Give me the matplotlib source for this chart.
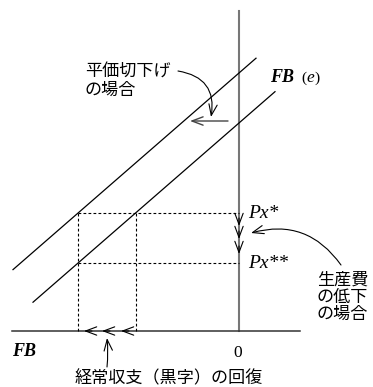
import matplotlib
matplotlib.use("Agg")
import matplotlib.pyplot as plt
import numpy as np

# ---- diagram data (origin = intersection of axes) ----
slope = 0.87                 # slope of the FB(e) lines
fb_intercepts = [25.8, 20.8] # before / after devaluation (upper, lower)
fb_x_start = [-22.6, -20.6]
fb_x_end = [1.7, 3.6]
px_levels = [11.8, 6.8]      # Px*, Px**
px_labels = ["Px*", "Px**"]
v_axis_top = 32.0
h_axis_range = [-22.7, 6.1]
v_arrow_tips = [10.5, 9.2, 7.7]      # downward heads on vertical axis
h_arrow_tips = [-15.5, -13.7, -11.8] # leftward heads on horizontal axis
shift_arrow = [(-1.1, 21.0), (-4.9, 21.0)]

label_deval = ["平価切下げ", "の場合"]
label_cost = ["生産費", "の低下", "の場合"]
label_bottom = "経常収支（黒字）の回復"

fig = plt.figure(figsize=(3.73, 3.87), dpi=100)
ax = fig.add_axes([0, 0, 1, 1])
ax.set_xlim(-23.9, 13.4)
ax.set_ylim(-5.6, 33.1)
ax.axis("off")

cjk = ["Noto Sans CJK JP", "DejaVu Sans"]
serif = "Liberation Serif"

# axes
ax.plot([0, 0], [0, v_axis_top], color="#777777", lw=1.5, zorder=2)
ax.plot(h_axis_range, [0, 0], color="#333333", lw=1.1, zorder=2)

# FB(e) lines
for b, x0, x1 in zip(fb_intercepts, fb_x_start, fb_x_end):
    xs = np.array([x0, x1])
    ax.plot(xs, slope * xs + b, color="black", lw=0.9, zorder=3)

# intersections
x_up_star = (px_levels[0] - fb_intercepts[0]) / slope
x_lo_star = (px_levels[0] - fb_intercepts[1]) / slope
x_lo_2star = (px_levels[1] - fb_intercepts[1]) / slope
x_left = min(x_up_star, x_lo_2star)

dash = (0, (2.5, 2.0))
ax.plot([x_left, 0], [px_levels[0]] * 2, color="black", lw=0.8, ls=dash)
ax.plot([x_left, 0], [px_levels[1]] * 2, color="black", lw=0.8, ls=dash)
ax.plot([x_left, x_left], [0, px_levels[0]], color="black", lw=0.8, ls=dash)
ax.plot([x_lo_star, x_lo_star], [0, px_levels[0]], color="black", lw=0.8, ls=dash)

# arrowheads along axes
for t in v_arrow_tips:
    ax.annotate("", xy=(0, t), xytext=(0, t + 0.8),
                arrowprops=dict(arrowstyle="->,head_length=0.8,head_width=0.3",
                                color="black", lw=0.8, shrinkA=0, shrinkB=0))
for t in h_arrow_tips:
    ax.annotate("", xy=(t, 0), xytext=(t + 0.8, 0),
                arrowprops=dict(arrowstyle="->,head_length=0.8,head_width=0.3",
                                color="black", lw=0.8, shrinkA=0, shrinkB=0))

# shift arrow (devaluation)
ax.annotate("", xy=shift_arrow[1], xytext=shift_arrow[0],
            arrowprops=dict(arrowstyle="->,head_length=0.8,head_width=0.3",
                            color="#444444", lw=1.0, shrinkA=0, shrinkB=0))

# curved pointer arrows
ax.annotate("", xy=(-2.8, 21.4), xytext=(-6.1, 26.0),
            arrowprops=dict(arrowstyle="->,head_length=0.8,head_width=0.3",
                            color="black", lw=0.8, shrinkA=0, shrinkB=0,
                            connectionstyle="arc3,rad=-0.5"))
ax.annotate("", xy=(1.2, 9.8), xytext=(10.2, 6.6),
            arrowprops=dict(arrowstyle="->,head_length=0.8,head_width=0.3",
                            color="black", lw=0.8, shrinkA=0, shrinkB=0,
                            connectionstyle="arc3,rad=0.35"))
ax.annotate("", xy=(-13.2, -0.7), xytext=(-13.2, -3.6),
            arrowprops=dict(arrowstyle="->,head_length=0.8,head_width=0.3",
                            color="black", lw=0.8, shrinkA=0, shrinkB=0,
                            connectionstyle="arc3,rad=0.05"))

# texts
fs = 12.3
for i, s in enumerate(label_deval):
    ax.text(-15.4, 25.9 - 1.8 * i, s, family=cjk, fontsize=fs, ha="left", va="center")
for i, s in enumerate(label_cost):
    ax.text(7.8, 5.1 - 1.7 * i, s, family=cjk, fontsize=fs, ha="left", va="center")
ax.text(-7.0, -4.7, label_bottom, family=cjk, fontsize=fs, ha="center", va="center")

ax.text(3.1, 25.3, "FB", family=serif, style="italic", weight="bold", fontsize=13,
        ha="left", va="center")
ax.text(6.2, 25.3, "(", family=serif, fontsize=11, ha="left", va="center")
ax.text(6.7, 25.3, "e", family=serif, style="italic", fontsize=12.5, ha="left", va="center")
ax.text(7.5, 25.3, ")", family=serif, fontsize=11, ha="left", va="center")

for y, s in zip(px_levels, px_labels):
    ax.text(0.9, y, s, family=serif, style="italic", fontsize=14, ha="left", va="center")

ax.text(-0.1, -2.2, "0", family=serif, fontsize=12.5, ha="center", va="center")
ax.text(-22.7, -2.1, "FB", family=serif, style="italic", weight="bold", fontsize=13,
        ha="left", va="center")

fig.savefig("out.png", dpi=100)
